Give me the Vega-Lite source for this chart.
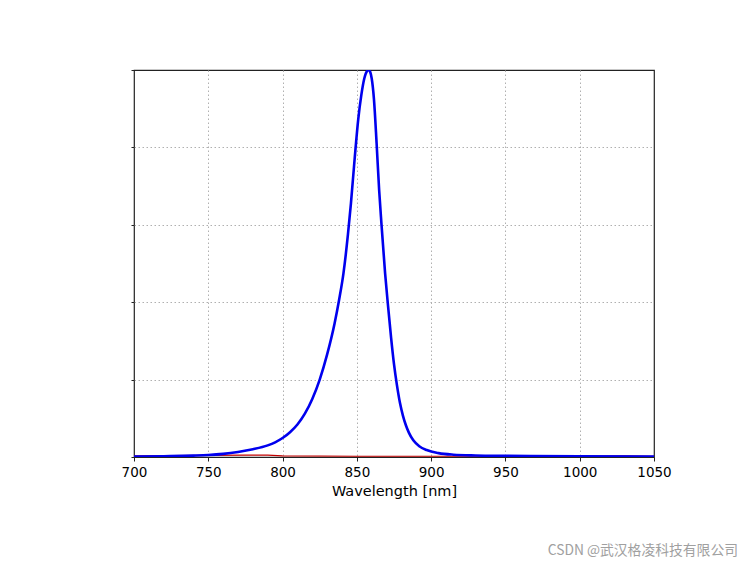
{
  "$schema": "https://vega.github.io/schema/vega-lite/v6.json",
  "width": 520,
  "height": 387,
  "autosize": {"type": "none"},
  "padding": {"left": 134, "top": 70, "right": 98, "bottom": 107},
  "background": "white",
  "config": {
    "font": "DejaVu Sans",
    "view": {"stroke": "#222222", "strokeWidth": 1.2},
    "axis": {
      "grid": true,
      "gridColor": "#b0b0b0",
      "gridDash": [1.5, 2.5],
      "gridWidth": 1,
      "domain": false,
      "tickColor": "#222222",
      "tickSize": 4,
      "labelFont": "DejaVu Sans",
      "labelFontSize": 13.5,
      "labelColor": "#000000",
      "labelFlush": false,
      "titleFont": "DejaVu Sans",
      "titleFontSize": 14.5,
      "titleFontWeight": "normal",
      "titleColor": "#000000"
    }
  },
  "title": {
    "text": "CSDN @武汉格凌科技有限公司",
    "orient": "bottom",
    "anchor": "end",
    "frame": "group",
    "font": "Noto Sans CJK SC",
    "fontSize": 13.8,
    "fontWeight": "normal",
    "color": "#a0a0a0",
    "offset": 46,
    "dx": 84
  },
  "datasets": {
    "spec": [
      {"w": 700, "v": 0.001},
      {"w": 720, "v": 0.002},
      {"w": 740, "v": 0.0035},
      {"w": 750, "v": 0.005},
      {"w": 760, "v": 0.008},
      {"w": 770, "v": 0.013},
      {"w": 780, "v": 0.02},
      {"w": 790, "v": 0.03},
      {"w": 795, "v": 0.038},
      {"w": 800, "v": 0.049},
      {"w": 805, "v": 0.064},
      {"w": 810, "v": 0.084},
      {"w": 815, "v": 0.112},
      {"w": 820, "v": 0.15},
      {"w": 825, "v": 0.2},
      {"w": 830, "v": 0.265},
      {"w": 835, "v": 0.345},
      {"w": 838, "v": 0.405},
      {"w": 841, "v": 0.475},
      {"w": 844, "v": 0.575},
      {"w": 846, "v": 0.655},
      {"w": 848.5, "v": 0.77},
      {"w": 851, "v": 0.875},
      {"w": 853, "v": 0.935},
      {"w": 855, "v": 0.978},
      {"w": 857, "v": 0.998},
      {"w": 858, "v": 1.0},
      {"w": 859, "v": 0.995},
      {"w": 860, "v": 0.978},
      {"w": 861.5, "v": 0.925},
      {"w": 863.3, "v": 0.81},
      {"w": 865, "v": 0.69},
      {"w": 866.6, "v": 0.6},
      {"w": 869, "v": 0.475},
      {"w": 871, "v": 0.39},
      {"w": 873, "v": 0.31},
      {"w": 875, "v": 0.24},
      {"w": 877, "v": 0.185},
      {"w": 879, "v": 0.14},
      {"w": 881, "v": 0.107},
      {"w": 883, "v": 0.082},
      {"w": 885, "v": 0.063},
      {"w": 888, "v": 0.043},
      {"w": 892, "v": 0.028},
      {"w": 897, "v": 0.018},
      {"w": 905, "v": 0.01},
      {"w": 915, "v": 0.006},
      {"w": 930, "v": 0.004},
      {"w": 950, "v": 0.003},
      {"w": 1000, "v": 0.002},
      {"w": 1050, "v": 0.001}
    ],
    "red": [
      {"w": 700, "v": 0.003},
      {"w": 750, "v": 0.004},
      {"w": 775, "v": 0.005},
      {"w": 790, "v": 0.005},
      {"w": 800, "v": 0.003},
      {"w": 850, "v": 0.002},
      {"w": 1000, "v": 0.002},
      {"w": 1030, "v": 0.003},
      {"w": 1050, "v": 0.002}
    ]
  },
  "layer": [
    {
      "data": {"name": "red"},
      "mark": {"type": "line", "color": "#c00000", "strokeWidth": 1.2, "clip": true},
      "encoding": {
        "x": {"field": "w", "type": "quantitative"},
        "y": {"field": "v", "type": "quantitative"}
      }
    },
    {
      "data": {"name": "spec"},
      "mark": {"type": "line", "color": "#0000ee", "strokeWidth": 2.6, "interpolate": "monotone", "clip": true},
      "encoding": {
        "x": {
          "field": "w",
          "type": "quantitative",
          "scale": {"domain": [700, 1050], "nice": false},
          "axis": {
            "values": [700, 750, 800, 850, 900, 950, 1000, 1050],
            "format": "d",
            "title": "Wavelength [nm]",
            "labelPadding": 4,
            "titlePadding": 6,
            "gridOpacity": {"condition": {"test": "datum.value == 700 || datum.value == 1050", "value": 0}, "value": 1}
          }
        },
        "y": {
          "field": "v",
          "type": "quantitative",
          "scale": {"domain": [0, 1], "nice": false},
          "axis": {
            "values": [0, 0.2, 0.4, 0.6, 0.8, 1.0],
            "labels": false,
            "title": null,
            "tickSize": 3,
            "gridOpacity": {"condition": {"test": "datum.value == 0 || datum.value == 1", "value": 0}, "value": 1}
          }
        }
      }
    }
  ]
}
